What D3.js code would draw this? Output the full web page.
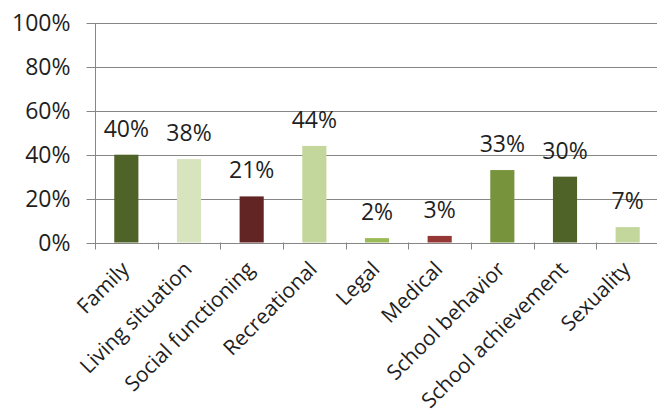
<!DOCTYPE html>
<html>
<head>
<meta charset="utf-8">
<script src="https://cdn.jsdelivr.net/npm/d3@7"></script>
<style>
  html, body { margin: 0; padding: 0; background: #fff; }
  svg { display: block; }
  text { font-family: "Open Sans", sans-serif; fill: #1f1f1f; }
</style>
</head>
<body>
<svg id="chart" width="657" height="411"></svg>
<script>
// Share of cases per problem area
const categories = ["Family", "Living situation", "Social functioning", "Recreational",
  "Legal", "Medical", "School behavior", "School achievement", "Sexuality"];
const values = [40, 38, 21, 44, 2, 3, 33, 30, 7];
const barColors = ["#4f6228", "#d7e4bd", "#632523", "#c3d69b", "#9bbb59",
  "#953735", "#77933c", "#4f6228", "#c3d69b"];
const yTicks = [0, 20, 40, 60, 80, 100];

const svg = d3.select("#chart");
const margin = { left: 95, right: -2, top: 23, bottom: 168.5 };
const W = 657, H = 411;
const x0 = margin.left, x1 = W - margin.right;
const y0 = H - margin.bottom, y1 = margin.top;

const x = d3.scaleBand().domain(categories).range([x0, x1]).paddingInner(0).paddingOuter(0);
const y = d3.scaleLinear().domain([0, 100]).range([y0, y1]);
const axisColor = "#868686";
const barW = x.bandwidth() * 0.385;

// gridlines
svg.append("g").selectAll("line").data(yTicks.filter(d => d > 0)).join("line")
  .attr("x1", x0).attr("x2", W)
  .attr("y1", d => Math.round(y(d)) + 0.5).attr("y2", d => Math.round(y(d)) + 0.5)
  .attr("stroke", axisColor).attr("stroke-width", 1);

// y axis
const yAxis = d3.axisLeft(y).tickValues(yTicks).tickFormat(d => d + "%").tickSize(9).tickPadding(16);
const gy = svg.append("g").attr("transform", `translate(${x0 + 0.5},0)`).call(yAxis);
gy.select(".domain").remove();
gy.selectAll(".tick line").attr("stroke", axisColor);
gy.selectAll(".tick").attr("transform", d => `translate(0,${Math.round(y(d)) + 0.5})`);
gy.selectAll(".tick text").attr("font-size", 23).attr("fill", "#1f1f1f")
  .style("font-family", '"Open Sans", sans-serif');
svg.append("line").attr("x1", x0 + 0.5).attr("x2", x0 + 0.5)
  .attr("y1", y1).attr("y2", y0 + 7).attr("stroke", axisColor);

// bars
svg.append("g").selectAll("rect").data(values).join("rect")
  .attr("x", (d, i) => x(categories[i]) + (x.bandwidth() - barW) / 2)
  .attr("y", d => y(d))
  .attr("width", barW)
  .attr("height", d => y(0) - y(d))
  .attr("fill", (d, i) => barColors[i]);

// x axis baseline and category boundary ticks
svg.append("line").attr("x1", x0).attr("x2", W)
  .attr("y1", Math.round(y0) + 0.5).attr("y2", Math.round(y0) + 0.5).attr("stroke", axisColor);
const bounds = categories.map(c => x(c)).concat([x1]);
svg.append("g").selectAll("line").data(bounds.slice(1)).join("line")
  .attr("x1", d => Math.round(d) + 0.5).attr("x2", d => Math.round(d) + 0.5)
  .attr("y1", y0).attr("y2", y0 + 7).attr("stroke", axisColor);

// value labels
svg.append("g").selectAll("text").data(values).join("text")
  .attr("x", (d, i) => x(categories[i]) + x.bandwidth() / 2)
  .attr("y", d => y(d) - 18)
  .attr("text-anchor", "middle")
  .attr("font-size", 23)
  .text(d => d + "%");

// category labels, rotated
svg.append("g").selectAll("text").data(categories).join("text")
  .attr("transform", c => `translate(${x(c) + x.bandwidth() / 2 + 4},${y0 + 28}) rotate(-45)`)
  .attr("text-anchor", "end")
  .attr("font-size", 21)
  .text(c => c);
</script>
</body>
</html>
